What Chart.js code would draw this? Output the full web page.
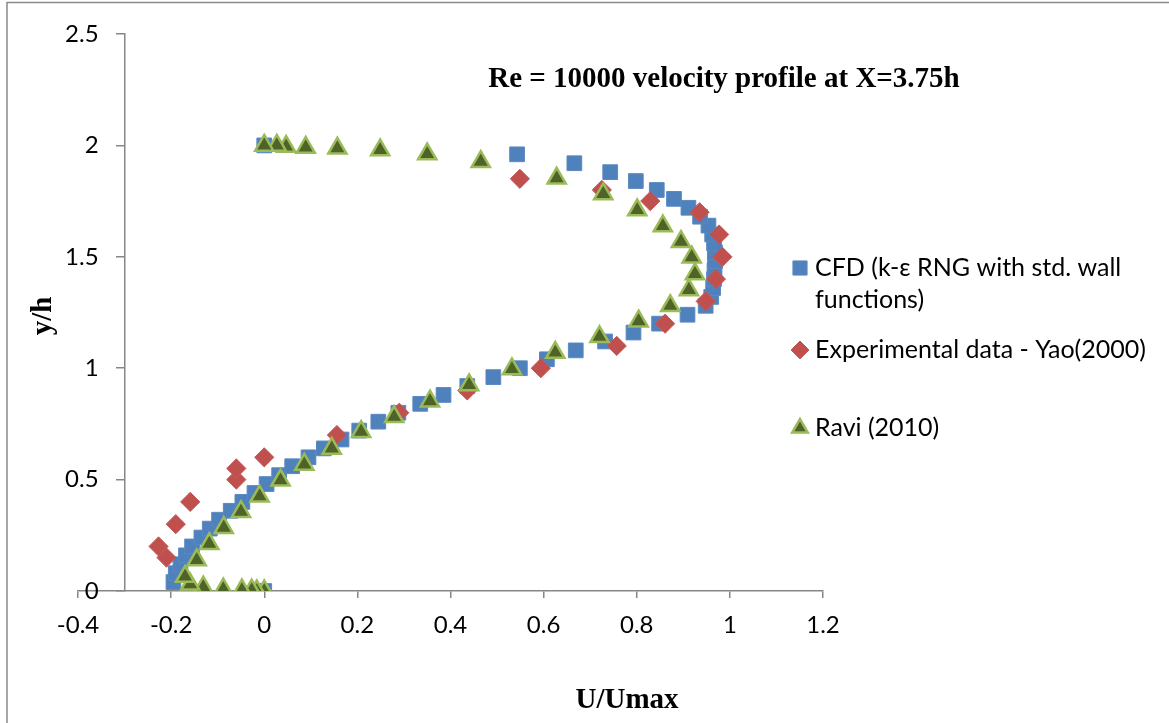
<!DOCTYPE html>
<html><head><meta charset="utf-8">
<script src="https://cdn.jsdelivr.net/npm/chart.js@4.4.0/dist/chart.umd.min.js"></script>
<style>html,body{margin:0;padding:0;background:#fff;}#wrap{position:relative;width:1169px;height:723px;}</style>
</head><body><div id="wrap"><canvas id="c" width="1169" height="723"></canvas></div>
<script>
// ---- data ----
const chartTitle = 'Re = 10000 velocity profile at X=3.75h';
const xTitle = 'U/Umax';
const yTitle = 'y/h';
const seriesNames = [['CFD (k-\u03b5 RNG with std. wall', 'functions)'], ['Experimental data - Yao(2000)'], ['Ravi (2010)']];

const xTicks = [-0.4, -0.2, 0, 0.2, 0.4, 0.6, 0.8, 1, 1.2];
const xTickLabels = ['-0.4', '-0.2', '0', '0.2', '0.4', '0.6', '0.8', '1', '1.2'];
const yTicks = [0, 0.5, 1, 1.5, 2, 2.5];
const yTickLabels = ['0', '0.5', '1', '1.5', '2', '2.5'];
const yAxisCrossX = -0.3;

const cfdX = [0.0, -0.195, -0.19, -0.18, -0.168, -0.155, -0.135, -0.117, -0.097, -0.072, -0.047, -0.021, 0.005, 0.032, 0.06, 0.095, 0.128, 0.166, 0.204, 0.245, 0.288, 0.335, 0.385, 0.436, 0.492, 0.549, 0.607, 0.669, 0.732, 0.793, 0.848, 0.909, 0.948, 0.96, 0.964, 0.966, 0.967, 0.968, 0.968, 0.966, 0.962, 0.954, 0.936, 0.911, 0.88, 0.843, 0.798, 0.743, 0.666, 0.543, 0.0];
const cfdY = [0.0, 0.04, 0.08, 0.12, 0.16, 0.20, 0.24, 0.28, 0.32, 0.36, 0.40, 0.44, 0.48, 0.52, 0.56, 0.60, 0.64, 0.68, 0.72, 0.76, 0.80, 0.84, 0.88, 0.92, 0.96, 1.00, 1.04, 1.08, 1.12, 1.16, 1.20, 1.24, 1.28, 1.32, 1.36, 1.40, 1.44, 1.48, 1.52, 1.56, 1.60, 1.64, 1.68, 1.72, 1.76, 1.80, 1.84, 1.88, 1.92, 1.96, 2.0];

const expX = [-0.21, -0.227, -0.19, -0.159, -0.06, -0.06, 0.0, 0.156, 0.29, 0.436, 0.594, 0.757, 0.861, 0.948, 0.97, 0.984, 0.977, 0.935, 0.829, 0.725, 0.549];
const expY = [0.15, 0.20, 0.30, 0.40, 0.50, 0.55, 0.60, 0.70, 0.80, 0.90, 1.00, 1.10, 1.20, 1.30, 1.40, 1.50, 1.60, 1.70, 1.75, 1.80, 1.85];

const raviX = [0.0, -0.016, -0.027, -0.048, -0.088, -0.131, -0.159, -0.17, -0.145, -0.118, -0.087, -0.05, -0.01, 0.035, 0.086, 0.145, 0.208, 0.279, 0.356, 0.44, 0.532, 0.625, 0.72, 0.804, 0.872, 0.912, 0.925, 0.918, 0.895, 0.856, 0.801, 0.728, 0.628, 0.465, 0.35, 0.249, 0.157, 0.089, 0.047, 0.027, 0.0];
const raviY = [0.0, 0.0, 0.003, 0.004, 0.008, 0.017, 0.03, 0.065, 0.139, 0.212, 0.284, 0.356, 0.425, 0.497, 0.568, 0.64, 0.715, 0.782, 0.852, 0.925, 0.996, 1.07, 1.141, 1.211, 1.28, 1.351, 1.423, 1.498, 1.568, 1.638, 1.71, 1.782, 1.852, 1.927, 1.961, 1.979, 1.987, 1.991, 1.995, 2.0, 2.0];

const pts = (xs, ys) => xs.map((x, i) => ({x: x, y: ys[i]}));

const SANS = 'Lato';
const SERIF = '"Liberation Serif", "Times New Roman", serif';
const AXIS = '#868686';

const deco = {
  id: 'deco',
  beforeDraw(chart) {
    const ctx = chart.ctx;
    ctx.save();
    ctx.fillStyle = '#fff';
    ctx.fillRect(0, 0, chart.width, chart.height);
    ctx.strokeStyle = '#8a8a8a';
    ctx.lineWidth = 1.5;
    ctx.beginPath();
    ctx.moveTo(7, chart.height + 5);
    ctx.lineTo(7, 2.5);
    ctx.lineTo(chart.width + 5, 2.5);
    ctx.stroke();
    ctx.restore();
  },
  afterDraw(chart) {
    const ctx = chart.ctx;
    const xs = chart.scales.x, ys = chart.scales.y;
    ctx.save();
    ctx.fillStyle = '#000';
    ctx.textBaseline = 'middle';
    // y tick labels (left of the crossing axis)
    ctx.font = '24px ' + SANS;
    ctx.textAlign = 'right';
    const axisPx = xs.getPixelForValue(yAxisCrossX);
    yTicks.forEach((v, i) => ctx.fillText(yTickLabels[i], axisPx - 26, ys.getPixelForValue(v)));
    // title
    ctx.font = 'bold 29px ' + SERIF;
    ctx.textAlign = 'center';
    ctx.fillText(chartTitle, 724, 80);
    // x title
    ctx.fillText(xTitle, 627, 701);
    // y title
    ctx.save();
    ctx.translate(44, 316);
    ctx.rotate(-Math.PI / 2);
    ctx.fillText(yTitle, 0, 0);
    ctx.restore();
    // legend
    const rows = [268, 350, 428];
    const sizes = [10, 9, 9];
    ctx.font = '25px ' + SANS;
    ctx.textAlign = 'left';
    chart.data.datasets.forEach((ds, i) => {
      ctx.save();
      ctx.fillStyle = ds.backgroundColor;
      ctx.strokeStyle = ds.borderColor;
      ctx.lineWidth = ds.borderWidth;
      Chart.helpers.drawPoint(ctx, {pointStyle: ds.pointStyle, rotation: 0, radius: sizes[i], borderWidth: ds.borderWidth}, 800, rows[i]);
      ctx.restore();
      seriesNames[i].forEach((t, k) => ctx.fillText(t, 815, rows[i] + k * 32));
    });
    ctx.restore();
  }
};

new Chart(document.getElementById('c'), {
  type: 'scatter',
  data: {
    datasets: [
      {label: seriesNames[0].join(' '), data: pts(cfdX, cfdY), pointStyle: 'rect', pointRadius: 10.4, backgroundColor: '#4F81BD', borderColor: '#5A89C2', borderWidth: 1, order: 3},
      {label: seriesNames[1].join(' '), data: pts(expX, expY), pointStyle: 'rectRot', pointRadius: 9.6, backgroundColor: '#C0504D', borderColor: '#C4585A', borderWidth: 1, order: 2},
      {label: seriesNames[2].join(' '), data: pts(raviX, raviY), pointStyle: 'triangle', pointRadius: 10.5, backgroundColor: '#4F6228', borderColor: '#9BBB59', borderWidth: 2.5, order: 1}
    ]
  },
  options: {
    responsive: false,
    animation: false,
    events: [],
    layout: {padding: {left: 78, top: 34, right: 346, bottom: 0}},
    plugins: {legend: {display: false}, tooltip: {enabled: false}, title: {display: false}},
    scales: {
      x: {
        type: 'linear', position: 'bottom', min: -0.4, max: 1.2,
        afterBuildTicks: (s) => { s.ticks = xTicks.map(v => ({value: v})); },
        afterFit: (s) => { s.height = 132; },
        ticks: {color: '#000', font: {family: SANS, size: 24}, padding: 13, maxRotation: 0, autoSkip: false,
          callback: (v, i) => xTickLabels[i]},
        grid: {display: true, drawOnChartArea: false, drawTicks: true, tickLength: 7, color: AXIS, lineWidth: 1.5},
        border: {display: true, color: AXIS, width: 1.5},
        title: {display: false}
      },
      y: {
        type: 'linear', position: {x: yAxisCrossX}, min: 0, max: 2.5,
        afterBuildTicks: (s) => { s.ticks = yTicks.map(v => ({value: v})); },
        ticks: {color: '#000', font: {family: SANS, size: 24}, autoSkip: false, callback: () => ''},
        grid: {display: true, drawOnChartArea: false, drawTicks: true, tickLength: 8, color: AXIS, lineWidth: 1.5},
        border: {display: true, color: AXIS, width: 1.5}
      }
    }
  },
  plugins: [deco]
});
</script>
</body></html>
